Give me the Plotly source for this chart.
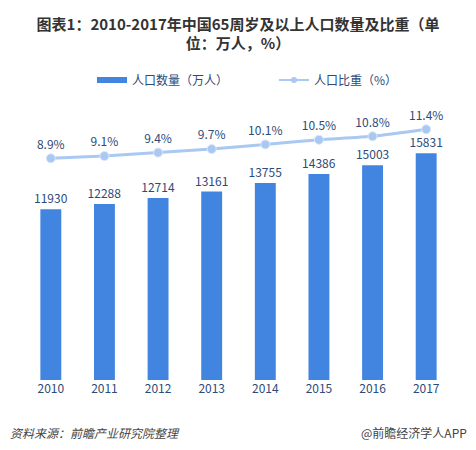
import plotly.graph_objects as go

years = ["2010", "2011", "2012", "2013", "2014", "2015", "2016", "2017"]
population = [11930, 12288, 12714, 13161, 13755, 14386, 15003, 15831]
share = [8.9, 9.1, 9.4, 9.7, 10.1, 10.5, 10.8, 11.4]
share_labels = ["8.9%", "9.1%", "9.4%", "9.7%", "10.1%", "10.5%", "10.8%", "11.4%"]

CJK = "Noto Sans CJK SC"
label_color = "#2d4a78"
bar_color = "#4285e0"
line_color = "#a9c8f2"

L, R, T, B = 24, 23, 100, 70
W, H = 476, 450
pw, ph = W - L - R, H - T - B


def px_x(x):
    return (x - L) / pw


def px_y(y):
    return (H - B - y) / ph


fig = go.Figure()
fig.add_trace(go.Bar(
    x=years, y=population, name="人口数量（万人）",
    marker=dict(color=bar_color, line=dict(width=0)),
    width=0.39,
    text=[str(v) for v in population], textposition="outside",
    constraintext="none",
    textfont=dict(family=CJK, size=12, color=label_color),
    cliponaxis=False, showlegend=False,
))
fig.add_trace(go.Scatter(
    x=years, y=share, name="人口比重（%）", yaxis="y2",
    mode="lines+markers+text",
    line=dict(color=line_color, width=3, shape="spline", smoothing=0.6),
    marker=dict(color=line_color, size=9, line=dict(color="#dce8f8", width=1)),
    text=share_labels, textposition="top center",
    textfont=dict(family=CJK, size=12, color=label_color),
    cliponaxis=False, showlegend=False,
))
# legend entries
fig.add_trace(go.Scatter(
    x=[None], y=[None], name="人口数量（万人）", mode="lines",
    line=dict(color=bar_color, width=6), legend="legend",
))
fig.add_trace(go.Scatter(
    x=[None], y=[None], name="人口比重（%）", mode="lines+markers", yaxis="y2",
    line=dict(color=line_color, width=2),
    marker=dict(color=line_color, size=6), legend="legend2",
))

leg_common = dict(
    orientation="h", yanchor="middle", y=px_y(80),
    font=dict(family=CJK, size=12, color=label_color),
    itemwidth=30, bgcolor="rgba(0,0,0,0)", borderwidth=0,
)

fig.update_layout(
    width=W, height=H,
    margin=dict(l=L, r=R, t=T, b=B, autoexpand=False),
    paper_bgcolor="white", plot_bgcolor="white",
    font=dict(family=CJK, color=label_color),
    title=dict(
        text="<b>图表1：2010-2017年中国65周岁及以上人口数量及比重（单<br>位：万人，%）</b>",
        x=0.5, xanchor="center", y=1 - 29.5 / H, yref="container", yanchor="middle",
        font=dict(family=CJK, size=15, color="#333333"),
    ),
    showlegend=True,
    legend=dict(x=px_x(92), xanchor="left", **leg_common),
    legend2=dict(x=px_x(274), xanchor="left", **leg_common),
    xaxis=dict(
        showline=False, showgrid=False, ticks="", range=[-0.5, 7.5],
        tickfont=dict(family=CJK, size=12, color=label_color),
    ),
    yaxis=dict(range=[0, 19553], visible=False, showgrid=False),
    yaxis2=dict(range=[-10.2, 13.93], overlaying="y", visible=False, showgrid=False),
    annotations=[
        dict(text="<i>资料来源：前瞻产业研究院整理</i>", x=px_x(8), y=px_y(432),
             xref="paper", yref="paper",
             showarrow=False, xanchor="left", yanchor="middle",
             font=dict(family=CJK, size=12, color="#444444")),
        dict(text="@前瞻经济学人APP", x=px_x(469), y=px_y(432),
             xref="paper", yref="paper", showarrow=False,
             xanchor="right", yanchor="middle",
             font=dict(family=CJK, size=12, color="#444444")),
    ],
)
fig.write_html("out.html", config={"displayModeBar": False},
               post_script="document.body.style.margin='0';document.body.style.padding='0';")
